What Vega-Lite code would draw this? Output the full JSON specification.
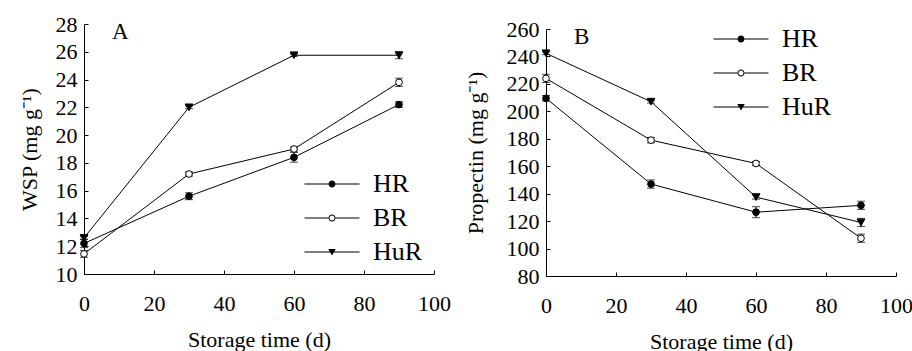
{
  "$schema": "https://vega.github.io/schema/vega-lite/v6.json",
  "background": "white",
  "padding": {"left": 18, "top": 13, "right": 5, "bottom": -1},
  "spacing": 13,
  "resolve": {"scale": {"shape": "independent"}, "legend": {"shape": "independent"}},
  "config": {
    "font": "Liberation Serif",
    "view": {"stroke": null},
    "axis": {
      "grid": false,
      "domainColor": "black",
      "tickColor": "black",
      "labelColor": "black",
      "titleColor": "black",
      "labelFont": "Liberation Serif",
      "titleFont": "Liberation Serif",
      "labelFontSize": 22,
      "titleFontSize": 22,
      "titleFontWeight": "normal",
      "labelFlush": false,
      "tickSize": -4,
      "domainWidth": 1,
      "tickWidth": 1
    },
    "axisX": {"labelPadding": 23, "titlePadding": 15},
    "axisY": {"labelPadding": 11, "titlePadding": 14},
    "legend": {
      "orient": "none", "direction": "vertical", "title": null,
      "labelFont": "Liberation Serif", "labelFontSize": 26, "labelColor": "black",
      "symbolSize": 100, "labelOffset": 28, "rowPadding": 8,
      "symbolFillColor": "black", "symbolStrokeWidth": 0, "symbolOpacity": 1
    },
    "title": {"font": "Liberation Serif", "fontSize": 23, "fontWeight": "normal", "color": "black"}
  },
  "datasets": {
    "wsp": [
      {"t": 0, "s": "HR", "v": 12.2, "e": 0.3},
      {"t": 30, "s": "HR", "v": 15.6, "e": 0.25},
      {"t": 60, "s": "HR", "v": 18.4, "e": 0.35},
      {"t": 90, "s": "HR", "v": 22.2, "e": 0.2},
      {"t": 0, "s": "BR", "v": 11.45, "e": 0.25},
      {"t": 30, "s": "BR", "v": 17.2, "e": 0.15},
      {"t": 60, "s": "BR", "v": 19.0, "e": 0.15},
      {"t": 90, "s": "BR", "v": 23.8, "e": 0.3},
      {"t": 0, "s": "HuR", "v": 12.6, "e": 0.1},
      {"t": 30, "s": "HuR", "v": 22.0, "e": 0.1},
      {"t": 60, "s": "HuR", "v": 25.75, "e": 0.08},
      {"t": 90, "s": "HuR", "v": 25.75, "e": 0.25}
    ],
    "propectin": [
      {"t": 0, "s": "HR", "v": 209.5, "e": 2},
      {"t": 30, "s": "HR", "v": 147, "e": 3},
      {"t": 60, "s": "HR", "v": 126.5, "e": 4},
      {"t": 90, "s": "HR", "v": 131.5, "e": 3},
      {"t": 0, "s": "BR", "v": 224, "e": 3},
      {"t": 30, "s": "BR", "v": 179, "e": 2},
      {"t": 60, "s": "BR", "v": 162, "e": 1.5},
      {"t": 90, "s": "BR", "v": 107.5, "e": 3},
      {"t": 0, "s": "HuR", "v": 242.3, "e": 1},
      {"t": 30, "s": "HuR", "v": 207, "e": 1},
      {"t": 60, "s": "HuR", "v": 137.5, "e": 1.5},
      {"t": 90, "s": "HuR", "v": 119, "e": 3}
    ]
  },
  "hconcat": [
    {
      "width": 350,
      "height": 250,
      "data": {"name": "wsp"},
      "title": {"text": "A", "anchor": "start", "frame": "group", "offset": -31, "dx": 28},
      "resolve": {"scale": {"shape": "independent"}},
      "encoding": {
        "x": {"field": "t", "type": "quantitative", "scale": {"domain": [0, 100], "nice": false},
              "axis": {"title": "Storage time (d)", "values": [0, 20, 40, 60, 80, 100]}},
        "y": {"field": "v", "type": "quantitative", "scale": {"domain": [10, 28], "nice": false, "zero": false},
              "axis": {"title": "WSP (mg g⁻¹)", "values": [10, 12, 14, 16, 18, 20, 22, 24, 26, 28]}}
      },
      "layer": [
        {
          "mark": {"type": "errorbar", "ticks": true, "size": 8, "thickness": 1, "color": "black"},
          "encoding": {"yError": {"field": "e"}, "detail": {"field": "s"}}
        },
        {
          "mark": {"type": "line", "color": "black", "strokeWidth": 1},
          "encoding": {"detail": {"field": "s"}}
        },
        {
          "mark": {"type": "point", "filled": true, "stroke": "black", "strokeWidth": 1, "opacity": 1},
          "encoding": {
            "shape": {"field": "s", "type": "nominal", "legend": null,
              "scale": {"domain": ["HR", "BR", "HuR"], "range": ["circle", "circle", "triangle-down"]}},
            "fill": {"condition": {"test": "datum.s === 'BR'", "value": "white"}, "value": "black"},
            "size": {"condition": {"test": "datum.s === 'HuR'", "value": 60}, "value": 45}
          }
        },
        {
          "transform": [{"filter": "false"}],
          "mark": {"type": "point", "filled": true, "color": "black", "strokeWidth": 0, "size": 100, "opacity": 1},
          "encoding": {
            "fill": {"value": "black"},
            "shape": {"field": "s", "type": "nominal",
              "scale": {"domain": ["HR", "BR", "HuR"], "range": [
                "M-5.5,-0.1H-0.7V0.1H-5.5ZM0.7,-0.1H5.5V0.1H0.7ZM-0.7,0A0.7,0.7,0,1,1,0.7,0A0.7,0.7,0,1,1,-0.7,0Z",
                "M-5.5,-0.1H-0.7V0.1H-5.5ZM0.7,-0.1H5.5V0.1H0.7ZM-0.7,0A0.7,0.7,0,1,1,0.7,0A0.7,0.7,0,1,1,-0.7,0ZM-0.5,0A0.5,0.5,0,1,0,0.5,0A0.5,0.5,0,1,0,-0.5,0Z",
                "M-5.5,-0.1H5.5V0.1H-5.5ZM-0.75,-0.6H0.75L0,0.7Z"]},
              "legend": {"legendX": 235, "legendY": 147}}
          }
        }
      ]
    },
    {
      "width": 350,
      "height": 252,
      "data": {"name": "propectin"},
      "title": {"text": "B", "anchor": "start", "frame": "group", "offset": -31, "dx": 28},
      "resolve": {"scale": {"shape": "independent"}},
      "encoding": {
        "x": {"field": "t", "type": "quantitative", "scale": {"domain": [0, 100], "nice": false},
              "axis": {"title": "Storage time (d)", "values": [0, 20, 40, 60, 80, 100]}},
        "y": {"field": "v", "type": "quantitative", "scale": {"domain": [80, 260], "nice": false, "zero": false, "range": [252, 5]},
              "axis": {"title": "Propectin (mg g⁻¹)", "titlePadding": 19, "values": [80, 100, 120, 140, 160, 180, 200, 220, 240, 260]}}
      },
      "layer": [
        {
          "mark": {"type": "errorbar", "ticks": true, "size": 8, "thickness": 1, "color": "black"},
          "encoding": {"yError": {"field": "e"}, "detail": {"field": "s"}}
        },
        {
          "mark": {"type": "line", "color": "black", "strokeWidth": 1},
          "encoding": {"detail": {"field": "s"}}
        },
        {
          "mark": {"type": "point", "filled": true, "stroke": "black", "strokeWidth": 1, "opacity": 1},
          "encoding": {
            "shape": {"field": "s", "type": "nominal", "legend": null,
              "scale": {"domain": ["HR", "BR", "HuR"], "range": ["circle", "circle", "triangle-down"]}},
            "fill": {"condition": {"test": "datum.s === 'BR'", "value": "white"}, "value": "black"},
            "size": {"condition": {"test": "datum.s === 'HuR'", "value": 60}, "value": 45}
          }
        },
        {
          "transform": [{"filter": "false"}],
          "mark": {"type": "point", "filled": true, "color": "black", "strokeWidth": 0, "size": 100, "opacity": 1},
          "encoding": {
            "fill": {"value": "black"},
            "shape": {"field": "s", "type": "nominal",
              "scale": {"domain": ["HR", "BR", "HuR"], "range": [
                "M-5.5,-0.1H-0.7V0.1H-5.5ZM0.7,-0.1H5.5V0.1H0.7ZM-0.7,0A0.7,0.7,0,1,1,0.7,0A0.7,0.7,0,1,1,-0.7,0Z",
                "M-5.5,-0.1H-0.7V0.1H-5.5ZM0.7,-0.1H5.5V0.1H0.7ZM-0.7,0A0.7,0.7,0,1,1,0.7,0A0.7,0.7,0,1,1,-0.7,0ZM-0.5,0A0.5,0.5,0,1,0,0.5,0A0.5,0.5,0,1,0,-0.5,0Z",
                "M-5.5,-0.1H5.5V0.1H-5.5ZM-0.75,-0.6H0.75L0,0.7Z"]},
              "legend": {"legendX": 182, "legendY": 2}}
          }
        }
      ]
    }
  ]
}
